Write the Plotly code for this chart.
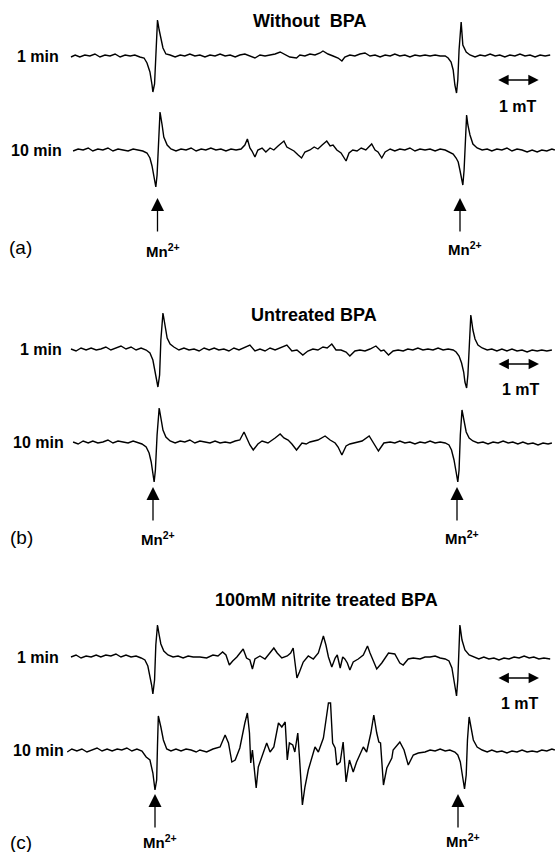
import plotly.graph_objects as go

# ---------------- data (field in mT, signal in arbitrary units) ----------------
a1_field = [1.69,1.79,1.90,2.02,2.14,2.26,2.38,2.50,2.62,2.74,2.86,2.98,3.10,3.21,3.33,3.43,3.50,3.57,3.62,3.64,3.68,3.71,3.75,3.79,3.83,3.88,3.95,
            4.05,4.17,4.29,4.40,4.52,4.64,4.76,4.88,5.00,5.12,5.24,5.36,5.48,5.60,5.71,5.83,5.95,6.07,6.19,6.31,6.43,6.55,6.67,6.79,6.90,7.06,
            7.14,7.26,7.38,7.50,7.62,7.69,7.81,7.93,8.05,8.14,8.21,8.33,8.45,8.57,8.69,8.81,8.93,9.05,9.17,9.29,9.40,9.52,9.64,9.76,9.88,10.00,
            10.12,10.24,10.36,10.48,10.60,10.67,10.74,10.79,10.83,10.87,10.90,10.93,10.98,11.02,11.10,11.19,11.31,11.43,11.55,11.67,11.79,11.90,
            12.02,12.14,12.26,12.38,12.50,12.62,12.74,12.86,12.98,13.10]
a1_signal = [-1,1,-1,1,0,2,-1,1,0,2,-1,1,0,1,-1,-2,-7,-16,-29,-36,-28,6,36,26,16,8,2,
             1,-1,1,0,2,0,1,-1,1,0,2,0,1,-1,1,2,0,-2,1,0,1,2,4,1,-1,-2,
             1,0,2,1,3,5,2,0,-2,-5,-1,1,0,2,3,0,1,-1,1,0,2,0,1,-1,1,0,
             1,0,1,0,0,-2,-6,-14,-29,-37,-24,6,34,11,4,1,-1,1,0,2,0,1,
             -1,1,0,2,0,1,-1,1,0,1]

a2_field = [1.74,1.86,1.98,2.10,2.21,2.33,2.45,2.57,2.69,2.81,2.93,3.05,3.17,3.29,3.40,3.50,3.57,3.62,3.67,3.71,3.74,3.77,3.81,3.86,3.90,3.98,
            4.07,4.19,4.31,4.43,4.55,4.67,4.79,4.90,5.02,5.14,5.26,5.38,5.50,5.62,5.74,5.83,5.89,5.95,6.00,6.07,6.14,6.24,6.33,6.43,6.52,6.62,
            6.69,6.76,6.83,6.90,7.00,7.10,7.18,7.26,7.38,7.48,7.57,7.67,7.78,7.86,7.93,8.02,8.12,8.24,8.31,8.40,8.50,8.60,8.71,8.85,8.93,9.00,
            9.09,9.17,9.29,9.40,9.52,9.64,9.76,9.88,10.00,10.12,10.24,10.36,10.48,10.60,10.71,10.79,10.86,10.91,10.95,10.99,11.02,11.05,11.08,
            11.11,11.14,11.19,11.26,11.36,11.48,11.60,11.71,11.83,11.95,12.07,12.19,12.31,12.43,12.55,12.67,12.79,12.90,13.02,13.14,13.21]
a2_signal = [-1,1,0,2,-1,1,0,2,-1,1,0,-1,1,0,-1,-3,-8,-16,-28,-37,-25,10,38,25,13,5,
             1,-1,1,0,2,-1,1,0,2,0,1,-1,1,0,1,5,11,2,-1,-7,0,2,-2,2,0,4,
             7,9,3,1,-1,-5,-8,-2,0,3,1,5,9,4,5,0,-3,-11,-3,0,-1,2,0,6,0,-2,
             -8,-2,1,-1,1,0,2,-1,1,0,1,-1,1,0,-2,-4,-8,-12,-20,-30,-35,-20,10,
             35,25,15,6,2,0,1,-1,1,0,2,-1,1,0,-2,0,-2,0,-1,1,0]

b1_field = [1.69,1.81,1.93,2.05,2.17,2.29,2.40,2.52,2.64,2.76,2.88,3.00,3.12,3.24,3.36,3.48,3.57,3.64,3.69,3.73,3.76,3.80,3.83,3.88,3.93,3.98,
            4.05,4.14,4.26,4.38,4.50,4.62,4.74,4.86,4.98,5.10,5.21,5.33,5.45,5.57,5.69,5.81,5.95,6.07,6.19,6.31,6.43,6.55,6.67,6.83,6.95,7.07,
            7.21,7.33,7.45,7.57,7.69,7.79,7.90,8.00,8.12,8.24,8.33,8.45,8.57,8.69,8.81,8.95,9.07,9.14,9.25,9.36,9.48,9.60,9.71,9.83,9.95,10.07,
            10.19,10.31,10.43,10.55,10.67,10.79,10.86,10.93,10.99,11.04,11.07,11.11,11.14,11.18,11.21,11.26,11.31,11.38,11.48,11.60,11.71,11.83,
            11.95,12.07,12.19,12.31,12.43,12.55,12.67,12.79,12.90,13.02,13.14]
b1_signal = [0,-2,1,-1,1,-1,0,2,-1,1,3,0,2,-1,1,-1,-4,-11,-21,-31,-38,-26,9,36,21,11,
             5,2,-1,1,-1,0,-2,1,-1,1,-1,0,-2,1,-1,1,4,-2,0,-2,1,-1,1,4,-2,-1,
             -6,-2,0,-1,2,1,5,-1,-1,-3,-7,-2,-1,-2,0,3,-2,-1,-6,-2,-1,-2,0,-1,1,-1,
             0,-1,1,-1,0,-1,-3,-7,-14,-23,-33,-39,-26,9,34,19,10,4,1,-1,0,-2,
             0,-2,0,-2,-1,-3,-1,-2,-1,-2,-1]

b2_field = [1.74,1.86,1.98,2.10,2.21,2.33,2.45,2.57,2.69,2.81,2.93,3.05,3.17,3.29,3.38,3.48,3.55,3.60,3.63,3.67,3.70,3.74,3.79,3.83,3.88,3.95,
            4.05,4.17,4.29,4.40,4.52,4.64,4.76,4.88,5.00,5.12,5.24,5.36,5.48,5.60,5.71,5.81,5.90,5.95,6.03,6.14,6.24,6.38,6.55,6.67,6.76,6.86,
            6.95,7.06,7.19,7.29,7.38,7.57,7.74,7.86,7.98,8.05,8.14,8.24,8.33,8.45,8.62,8.79,8.90,9.01,9.14,9.29,9.40,9.52,9.64,9.76,9.88,10.00,
            10.12,10.24,10.36,10.48,10.60,10.69,10.75,10.81,10.86,10.90,10.93,10.96,11.00,11.05,11.10,11.17,11.26,11.38,11.50,11.62,11.74,11.86,
            11.98,12.10,12.21,12.33,12.45,12.57,12.69,12.81,12.93,13.05,13.14]
b2_signal = [0,-2,1,-1,1,-1,0,2,-1,1,0,-1,1,-1,-2,-5,-11,-20,-30,-40,-28,7,34,22,12,5,
             1,-1,1,0,2,-1,1,0,-1,1,-1,0,-1,1,2,10,2,-3,-8,-2,1,-1,4,8,4,2,
             -2,-8,-1,-2,0,2,6,2,-1,-5,-13,-4,-2,-1,1,6,-1,-9,-1,0,-1,1,-1,0,-2,0,
             -1,1,-1,0,-1,-3,-8,-18,-30,-40,-28,7,32,20,10,4,1,-1,0,-2,0,-1,
             1,-1,0,-2,0,-2,-1,-3,-1,-2,-1]

c1_field = [1.69,1.81,1.93,2.05,2.17,2.29,2.40,2.52,2.64,2.76,2.88,3.00,3.12,3.24,3.36,3.45,3.52,3.57,3.61,3.64,3.68,3.71,3.75,3.79,3.83,3.90,
            4.00,4.12,4.24,4.36,4.48,4.60,4.76,4.92,5.07,5.19,5.30,5.38,5.46,5.54,5.64,5.79,5.87,5.95,6.01,6.07,6.19,6.31,6.43,6.52,6.60,6.71,
            6.84,6.92,6.98,7.02,7.07,7.13,7.22,7.34,7.46,7.58,7.64,7.70,7.76,7.82,7.90,7.98,8.03,8.10,8.16,8.21,8.27,8.33,8.41,8.53,8.65,8.75,
            8.81,8.89,8.97,9.09,9.25,9.40,9.52,9.60,9.72,9.84,10.00,10.12,10.24,10.36,10.48,10.60,10.69,10.76,10.81,10.85,10.87,10.90,10.93,10.95,
            11.00,11.07,11.17,11.29,11.40,11.52,11.64,11.76,11.88,12.00,12.12,12.24,12.36,12.48,12.60,12.71,12.83,12.95,13.10]
c1_signal = [0,2,-1,1,0,2,0,2,1,3,0,2,0,1,-1,-3,-9,-18,-28,-37,-23,12,32,22,13,6,
             2,0,1,-1,1,0,0,-1,2,1,5,2,-8,-4,0,8,-1,-3,-12,-2,1,-2,5,9,4,-1,
             1,4,9,-5,-21,-15,-5,1,-2,4,12,21,12,0,-10,-1,2,-11,0,-2,-6,-13,-5,-2,2,11,
             4,-5,-12,-6,4,3,-6,-8,-2,-1,-2,0,0,1,-1,-2,-4,-11,-23,-33,-39,-23,7,32,
             17,7,2,0,-2,0,-2,-1,-3,-1,-2,0,-1,1,-1,0,-2,-1,-2]

c2_field = [1.60,1.71,1.83,1.95,2.07,2.19,2.31,2.43,2.55,2.67,2.79,2.90,3.02,3.14,3.26,3.38,3.48,3.57,3.64,3.69,3.73,3.75,3.77,3.83,3.89,3.97,
            4.07,4.19,4.31,4.43,4.55,4.67,4.76,4.92,5.07,5.24,5.36,5.44,5.52,5.60,5.71,5.83,5.89,5.94,5.97,6.01,6.05,6.10,6.15,6.23,6.35,6.43,
            6.52,6.63,6.71,6.79,6.84,6.89,6.97,7.02,7.09,7.13,7.20,7.26,7.34,7.50,7.58,7.70,7.82,7.87,7.92,7.98,8.02,8.10,8.17,8.24,8.32,8.41,
            8.49,8.65,8.73,8.83,8.90,8.97,9.02,9.06,9.13,9.21,9.33,9.36,9.52,9.62,9.72,9.84,9.96,10.12,10.24,10.36,10.48,10.60,10.71,10.83,10.90,
            10.96,11.01,11.06,11.10,11.13,11.17,11.21,11.27,11.36,11.48,11.60,11.71,11.83,11.95,12.07,12.19,12.31,12.43,12.55,12.67,12.79,12.90,
            13.02,13.14,13.21]
c2_signal = [-2,1,-1,1,-2,0,2,-1,1,-1,1,0,2,-1,1,-1,-7,-10,-23,-40,-30,5,34,23,10,1,
             -1,1,-1,1,0,-2,0,-2,1,3,15,7,-12,-10,2,27,37,17,-13,0,-15,-38,-17,-7,7,-2,
             3,27,23,28,-10,7,5,-2,17,-7,-55,-37,-20,3,-2,12,47,47,7,2,-15,-12,8,-32,-10,-22,
             -12,3,-2,17,35,17,8,7,-35,-18,-8,0,8,0,-15,-5,-3,-2,0,-1,1,-1,0,-2,-5,
             -12,-25,-39,-25,10,33,22,10,3,0,-2,0,-2,-1,-3,-1,-2,0,-2,-1,-2,0,
             -1,1,0]

trace_labels = ["1 min", "10 min", "1 min", "10 min", "1 min", "10 min"]
panel_titles = ["Without  BPA", "Untreated BPA", "100mM nitrite treated BPA"]
panel_letters = ["(a)", "(b)", "(c)"]
mn_label = "Mn<sup>2+</sup>"
scale_label = "1 mT"
scale_length_mT = 1.0

# ---------------- layout constants ----------------
W, H = 555, 852
PX_PER_MT = 42.0
FONT = "Liberation Sans, Arial, Helvetica, sans-serif"


def fx(px):
    return px / W


def fy(py):
    return 1 - py / H


fields = [a1_field, a2_field, b1_field, b2_field, c1_field, c2_field]
signals = [a1_signal, a2_signal, b1_signal, b2_signal, c1_signal, c2_signal]
baselines_px = [56, 150, 349, 442, 657, 750]
label_right_px = [61, 64, 64, 66, 61, 66]
HU, HD = 50, 62

fig = go.Figure()
layout_axes = {}
for i, (xf, ys, base) in enumerate(zip(fields, signals, baselines_px), start=1):
    yname = "y" if i == 1 else f"y{i}"
    fig.add_trace(go.Scatter(x=xf, y=ys, mode="lines", xaxis="x", yaxis=yname,
                             line=dict(color="black", width=1.4),
                             hoverinfo="skip", showlegend=False))
    key = "yaxis" if i == 1 else f"yaxis{i}"
    ax = dict(domain=[(H - base - HD) / H, (H - base + HU) / H], range=[-HD, HU],
              visible=False, fixedrange=True)
    if i > 1:
        ax["anchor"] = "x"
    layout_axes[key] = ax

ann = []
# trace labels
for lab, base, xr in zip(trace_labels, baselines_px, label_right_px):
    ann.append(dict(text=f"<b>{lab}</b>", x=fx(xr), y=fy(base), xref="paper", yref="paper",
                    xanchor="right", yanchor="middle", showarrow=False,
                    font=dict(family=FONT, size=16, color="black")))

# panel titles
title_pos = [(309, 21), (314, 315), (326, 600)]
for t, (tx, ty) in zip(panel_titles, title_pos):
    ann.append(dict(text=f"<b>{t}</b>", x=fx(tx), y=fy(ty), xref="paper", yref="paper",
                    xanchor="center", yanchor="middle", showarrow=False,
                    font=dict(family=FONT, size=18, color="black")))

# panel letters
letter_pos = [(20, 248), (21, 537), (21, 842)]
for t, (tx, ty) in zip(panel_letters, letter_pos):
    ann.append(dict(text=t, x=fx(tx), y=fy(ty), xref="paper", yref="paper",
                    xanchor="center", yanchor="middle", showarrow=False,
                    font=dict(family=FONT, size=19, color="black")))

# Mn2+ markers (field position in mT, arrow tip pixel y, label pixel y)
mn_markers = [
    (157.5, 198, 250), (460, 198, 249),
    (153, 487, 538), (457, 487, 537),
    (155, 794, 841), (458, 794, 840),
]
for mx, tip, ly in mn_markers:
    ann.append(dict(x=mx / PX_PER_MT, xref="x", y=fy(tip), yref="paper",
                    ax=0, ay=35, axref="pixel", ayref="pixel", text="",
                    showarrow=True, arrowhead=2, arrowsize=2.0, arrowwidth=1.3,
                    arrowcolor="black", standoff=0))
    ann.append(dict(text=f"<b>{mn_label}</b>", x=(mx + 5) / PX_PER_MT, xref="x",
                    y=fy(ly), yref="paper", xanchor="center", yanchor="middle",
                    showarrow=False, font=dict(family=FONT, size=15, color="black")))

# 1 mT scale bars
scale_pos = [(496.7, 80, 518, 106), (497, 364, 521, 389), (497, 678, 520, 703)]
for sx, sy, tx, ty in scale_pos:
    x0 = sx / PX_PER_MT
    ann.append(dict(x=x0 + scale_length_mT, xref="x", y=fy(sy), yref="paper",
                    ax=x0, axref="x", ay=0, ayref="pixel", text="",
                    showarrow=True, arrowhead=2, startarrowhead=2,
                    arrowside="end+start", arrowsize=1.3, startarrowsize=1.3,
                    arrowwidth=1.6, arrowcolor="black", standoff=0, startstandoff=0))
    ann.append(dict(text=f"<b>{scale_label}</b>", x=fx(tx), y=fy(ty), xref="paper",
                    yref="paper", xanchor="center", yanchor="middle", showarrow=False,
                    font=dict(family=FONT, size=16, color="black")))

fig.update_layout(
    width=W, height=H, autosize=False,
    margin=dict(l=0, r=0, t=0, b=0, pad=0),
    paper_bgcolor="white", plot_bgcolor="white",
    xaxis=dict(range=[0, W / PX_PER_MT], domain=[0, 1], visible=False, fixedrange=True),
    annotations=ann,
    **layout_axes,
)

fig.write_html("out.html")
